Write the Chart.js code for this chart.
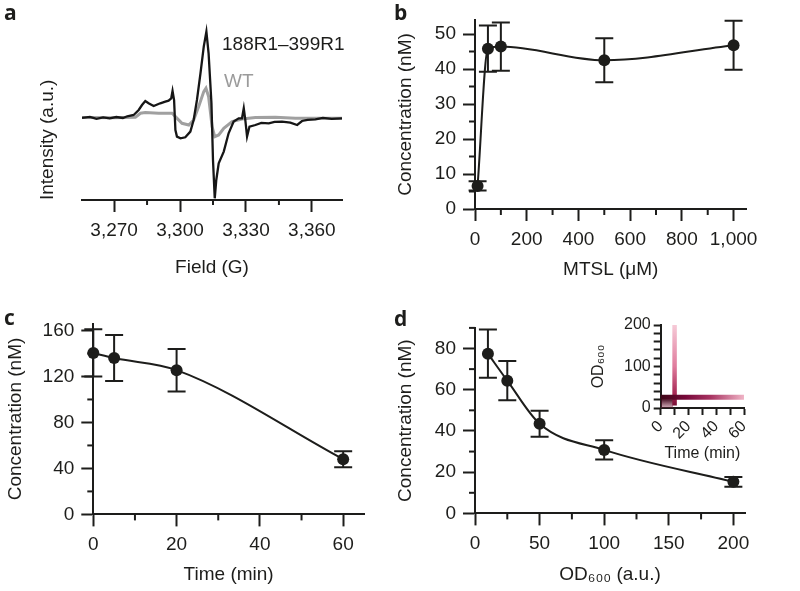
<!DOCTYPE html>
<html>
<head>
<meta charset="utf-8">
<script src="https://cdn.jsdelivr.net/npm/chart.js@4.4.0/dist/chart.umd.min.js"></script>
<style>
  html, body { margin: 0; padding: 0; background: #fff; }
  #fig { position: relative; width: 800px; height: 591px; overflow: hidden; }
  canvas { position: absolute; }
  .lbl { position: absolute; font-family: "Open Sans", "DejaVu Sans", sans-serif; font-weight: 700;
         font-size: 21px; line-height: 21px; color: #1d1d1b; }
  .note { position: absolute; font-family: "Liberation Sans", Arial, sans-serif; font-size: 19px;
          line-height: 19px; white-space: nowrap; }
</style>
</head>
<body>
<div id="fig">
  <canvas id="chartA" width="390" height="295" style="left:0;top:0"></canvas>
  <canvas id="chartB" width="410" height="295" style="left:390px;top:0"></canvas>
  <canvas id="chartC" width="390" height="296" style="left:0;top:295px"></canvas>
  <canvas id="chartD" width="410" height="296" style="left:390px;top:295px"></canvas>
  <canvas id="chartInset" width="220" height="160" style="left:580px;top:310px"></canvas>

  <div class="lbl" style="left:4px;top:2px">a</div>
  <div class="lbl" style="left:394px;top:2px">b</div>
  <div class="lbl" style="left:4px;top:307px">c</div>
  <div class="lbl" style="left:394px;top:308px">d</div>

  <div class="note" style="left:222px;top:34px;color:#1d1d1b">188R1–399R1</div>
  <div class="note" style="left:224px;top:71px;color:#9b9b9b">WT</div>
</div>

<script>
// ---- data ----

// a: EPR spectra
const spinField = [3255.4, 3259, 3262, 3265, 3268, 3271, 3274, 3276, 3278.9, 3281.2, 3282.7, 3284.2, 3285.7,
  3288.0, 3291.0, 3293.3, 3294.8, 3296.0, 3296.6, 3297.3, 3297.9, 3298.6, 3300.2, 3302.4, 3304.7, 3306.2,
  3307.7, 3309.3, 3310.8, 3312.0, 3313.0, 3314.3, 3315.0, 3315.8, 3316.5, 3317.6, 3319.9, 3322.1, 3324.4,
  3326.7, 3328.2, 3329.0, 3329.7, 3330.5, 3331.6, 3334.3, 3337, 3340.4, 3343, 3346.4, 3350.2, 3353.3,
  3355.5, 3358, 3361.6, 3365, 3369, 3373.7];
const spinIntensity = [0.5, 1.5, -0.5, 1, 0, 1.3, 0.3, 2, 3.3, 8.3, 13.3, 17.3, 15,
  12.3, 15, 16.7, 17.7, 20, 27.3, 18.3, -11.7, -18.3, -20, -19, -13.3, -1.7,
  18.3, 45, 71.7, 86.7, 65, 15, -41.7, -80, -61.7, -45, -33.3, -15, -3.3,
  0, 0, 10, -1.7, -18.3, -8.3, -6.7, -4.5, -5, -3.5, -3.3, -4.3, -6.7,
  -2.7, -1.5, -1, 0.5, -0.5, 0];
const wtField = [3255.4, 3270, 3279.7, 3282.0, 3284.2, 3290.3, 3296.4, 3297.9, 3300.9, 3304.0, 3306.2,
  3308.5, 3310.8, 3311.8, 3313.0, 3314.6, 3315.8, 3317.6, 3319.9, 3323.7, 3328.2, 3334.3, 3343.4,
  3352.5, 3373.7];
const wtIntensity = [0.7, 0.5, 1, 5, 5.7, 5, 5, 1.7, -5, -6.7, -1.7,
  11.7, 26.7, 30, 21.7, -8.3, -18.3, -16.7, -10, -3.3, -0.7, 0.7, 1,
  0, 0];
const fieldTicks = [3270, 3300, 3330, 3360];
const fieldMinor = [3285, 3315, 3345];

// b: MTSL titration
const mtsl = [10, 50, 100, 500, 1000];
const mtslConc = [6.6, 45.8, 46.4, 42.5, 46.8];
const mtslErr = [1.3, 6.6, 6.9, 6.3, 7.0];
const mtslTicks = [0, 200, 400, 600, 800, 1000];
const mtslMinor = [100, 300, 500, 700, 900];
const concTicksB = [0, 10, 20, 30, 40, 50];
const concMinorB = [5, 15, 25, 35, 45];

// c: time course
const timeMin = [0, 5, 20, 60];
const timeConc = [140.5, 136, 125.5, 48];
const timeErr = [20.5, 20, 18.5, 7];
const timeTicks = [0, 20, 40, 60];
const timeMinor = [10, 30, 50];
const concTicksC = [0, 40, 80, 120, 160];
const concMinorC = [20, 60, 100, 140];

// d: cell density
const od600 = [10, 25, 50, 100, 200];
const odConc = [77.5, 64.4, 43.5, 30.8, 15.3];
const odErr = [11.7, 9.5, 6.3, 4.7, 2.4];
const odTicks = [0, 50, 100, 150, 200];
const odMinor = [25, 75, 125, 175];
const concTicksD = [0, 20, 40, 60, 80];
const concMinorD = [10, 30, 50, 70, 90];

// d inset: OD600 over time (stripes)
const insetRowTime = [0, 60];
const insetRowOD = [26, 26];
const insetColTime = [10, 10];
const insetColOD = [6, 200];
const insetCornerTime = [0, 9];
const insetCornerOD = [21, 21];
const insetTimeTicks = [0, 10, 20, 30, 40, 50, 60];
const insetODTicks = [0, 20, 40, 60, 80, 100, 120, 140, 160, 180, 200];

// ---- helpers ----
const INK = '#1d1d1b';
Chart.defaults.font.family = '"Liberation Sans", Arial, Helvetica, sans-serif';
Chart.defaults.color = INK;

const pts = (xs, ys) => xs.map((x, i) => ({ x: x, y: ys[i] }));
const comma = v => Number(v).toLocaleString('en-US');

function axis(o) {
  const fs = o.fs || 19;
  return {
    type: 'linear', position: o.pos, min: o.min, max: o.max,
    afterBuildTicks: s => { s.ticks = o.major.map(v => ({ value: v })); },
    afterFit: s => { if (o.pos === 'bottom') s.height = o.size; else s.width = o.size; },
    border: { display: true, color: INK, width: 2 },
    grid: { drawOnChartArea: false, tickLength: o.tickLen || 12, tickWidth: 2, tickColor: INK },
    ticks: { autoSkip: false, maxRotation: o.rot || 0, minRotation: o.rot || 0, padding: o.pad,
             color: INK, font: { size: fs }, callback: o.fmt || (v => v) },
    title: { display: true, text: o.title, color: INK, font: { size: fs }, padding: o.titlePad }
  };
}

// short ticks between the labelled ones
const minorTicks = {
  id: 'minorTicks',
  afterDraw(chart, args, opts) {
    const { ctx, chartArea: a, scales } = chart;
    const len = opts.len || 6;
    ctx.save();
    ctx.strokeStyle = INK;
    ctx.lineWidth = 2;
    (opts.x || []).forEach(v => {
      const px = scales.x.getPixelForValue(v);
      ctx.beginPath(); ctx.moveTo(px, a.bottom); ctx.lineTo(px, a.bottom + len); ctx.stroke();
    });
    (opts.y || []).forEach(v => {
      const py = scales.y.getPixelForValue(v);
      ctx.beginPath(); ctx.moveTo(a.left - len, py); ctx.lineTo(a.left, py); ctx.stroke();
    });
    ctx.restore();
  }
};

// vertical error bars with caps, taken from dataset.errors
const errorBars = {
  id: 'errorBars',
  beforeDatasetsDraw(chart) {
    const { ctx, scales } = chart;
    chart.data.datasets.forEach(ds => {
      if (!ds.errors) return;
      ctx.save();
      ctx.strokeStyle = INK;
      ctx.lineWidth = 2;
      ds.data.forEach((p, j) => {
        const x = scales.x.getPixelForValue(p.x);
        const top = scales.y.getPixelForValue(p.y + ds.errors[j]);
        const bot = scales.y.getPixelForValue(p.y - ds.errors[j]);
        ctx.beginPath();
        ctx.moveTo(x, top); ctx.lineTo(x, bot);
        ctx.moveTo(x - 9, top); ctx.lineTo(x + 9, top);
        ctx.moveTo(x - 9, bot); ctx.lineTo(x + 9, bot);
        ctx.stroke();
      });
      ctx.restore();
    });
  }
};

function errorSeries(xs, ys, errs) {
  return {
    data: pts(xs, ys), errors: errs,
    borderColor: INK, borderWidth: 2, cubicInterpolationMode: 'monotone',
    pointRadius: 6, pointBackgroundColor: INK, pointBorderWidth: 0, clip: false
  };
}

const base = {
  responsive: false, animation: false, devicePixelRatio: 1,
  plugins: { legend: { display: false }, tooltip: { enabled: false } }
};

// ---- a ----
new Chart(document.getElementById('chartA'), {
  type: 'line',
  data: {
    datasets: [
      { data: pts(spinField, spinIntensity), borderColor: '#161616', borderWidth: 2.3, pointRadius: 0, order: 0 },
      { data: pts(wtField, wtIntensity), borderColor: '#a0a0a0', borderWidth: 3, pointRadius: 0, order: 1 }
    ]
  },
  options: {
    ...base,
    layout: { padding: { left: 32, right: 48, top: 20, bottom: 12 } },
    plugins: { ...base.plugins, minorTicks: { x: fieldMinor, len: 5 } },
    scales: {
      x: axis({ pos: 'bottom', min: 3255.4, max: 3373.7, major: fieldTicks, size: 83, pad: 7,
                fmt: comma, title: 'Field (G)', titlePad: { top: 0, bottom: 4 } }),
      y: { type: 'linear', min: -81.7, max: 98.3,
           afterFit: s => { s.width = 50; },
           ticks: { display: false }, grid: { display: false }, border: { display: false },
           title: { display: true, text: 'Intensity (a.u.)', align: 'start', color: INK,
                    font: { size: 19 }, padding: { top: 4, bottom: 0 } } }
    }
  },
  plugins: [minorTicks]
});

// ---- b ----
new Chart(document.getElementById('chartB'), {
  type: 'line',
  data: { datasets: [errorSeries(mtsl, mtslConc, mtslErr)] },
  options: {
    ...base,
    layout: { padding: { left: 0, right: 53.5, top: 20, bottom: 10 } },
    plugins: { ...base.plugins, minorTicks: { x: mtslMinor, y: concMinorB, len: 6 } },
    scales: {
      x: axis({ pos: 'bottom', min: 0, max: 1050, major: mtslTicks, size: 76, pad: 7,
                fmt: comma, title: 'MTSL (μM)', titlePad: { top: 0, bottom: 4 } }),
      y: axis({ pos: 'left', min: 0, max: 54, major: concTicksB, size: 85, pad: 7,
                title: 'Concentration (nM)', titlePad: { top: 4, bottom: 0 } })
    }
  },
  plugins: [minorTicks, errorBars]
});

// ---- c ----
new Chart(document.getElementById('chartC'), {
  type: 'line',
  data: { datasets: [errorSeries(timeMin, timeConc, timeErr)] },
  options: {
    ...base,
    layout: { padding: { left: 0, right: 26, top: 28.6, bottom: 0.6 } },
    plugins: { ...base.plugins, minorTicks: { x: timeMinor, y: concMinorC, len: 6 } },
    scales: {
      x: axis({ pos: 'bottom', min: 0, max: 65, major: timeTicks, size: 76, pad: 7,
                title: 'Time (min)', titlePad: { top: 0, bottom: 4 } }),
      y: axis({ pos: 'left', min: 0, max: 166, major: concTicksC, size: 93.3, pad: 7,
                title: 'Concentration (nM)', titlePad: { top: 4, bottom: 0 } })
    }
  },
  plugins: [minorTicks, errorBars]
});

// ---- d ----
new Chart(document.getElementById('chartD'), {
  type: 'line',
  data: { datasets: [errorSeries(od600, odConc, odErr)] },
  options: {
    ...base,
    layout: { padding: { left: 0, right: 55, top: 32.9, bottom: 0.6 } },
    plugins: { ...base.plugins, minorTicks: { x: odMinor, y: concMinorD, len: 6 } },
    scales: {
      x: axis({ pos: 'bottom', min: 0, max: 209, major: odTicks, size: 77, pad: 7,
                title: 'OD₆₀₀ (a.u.)', titlePad: { top: 0, bottom: 4 } }),
      y: axis({ pos: 'left', min: 0, max: 90, major: concTicksD, size: 85, pad: 7,
                title: 'Concentration (nM)', titlePad: { top: 4, bottom: 0 } })
    }
  },
  plugins: [minorTicks, errorBars]
});

// ---- d inset ----
function stripeGradient(ctx, horizontal, stops, fallback) {
  const chart = ctx.chart;
  if (!chart.chartArea) return fallback;
  const xs = chart.scales.x, ys = chart.scales.y;
  const g = horizontal
    ? chart.ctx.createLinearGradient(xs.getPixelForValue(0), 0, xs.getPixelForValue(60), 0)
    : chart.ctx.createLinearGradient(0, ys.getPixelForValue(0), 0, ys.getPixelForValue(200));
  stops.forEach(s => g.addColorStop(s[0], s[1]));
  return g;
}

new Chart(document.getElementById('chartInset'), {
  type: 'line',
  data: {
    datasets: [
      { data: pts(insetRowTime, insetRowOD), borderWidth: 5, borderCapStyle: 'butt', pointRadius: 0, clip: false,
        borderColor: c => stripeGradient(c, true,
          [[0, '#3d0716'], [0.3, '#78093a'], [0.6, '#a83462'], [1, '#f0b4c6']], '#8a1040') },
      { data: pts(insetColTime, insetColOD), borderWidth: 4.5, borderCapStyle: 'butt', pointRadius: 0, clip: false,
        borderColor: c => stripeGradient(c, false,
          [[0, '#6e0b2f'], [0.15, '#a3234f'], [0.5, '#e07c9d'], [1, '#f6cad7']], '#c05078') },
      { data: pts(insetCornerTime, insetCornerOD), borderWidth: 0, pointRadius: 0, fill: 'origin',
        backgroundColor: c => stripeGradient(c, false,
          [[0, 'rgba(120,30,60,0.35)'], [0.1, 'rgba(60,5,25,0.9)']], 'rgba(70,10,30,0.7)') }
    ]
  },
  options: {
    ...base,
    layout: { padding: { left: 5, right: 56, top: 15, bottom: 3.1 } },
    scales: {
      x: axis({ pos: 'bottom', min: 0, max: 60, major: insetTimeTicks, size: 58.9, pad: 2, fs: 16,
                tickLen: 7, rot: 45, fmt: v => (v % 20 === 0 ? v : ''),
                title: 'Time (min)', titlePad: { top: 0, bottom: 4 } }),
      y: axis({ pos: 'left', min: 0, max: 200, major: insetODTicks, size: 75.7, pad: 3, fs: 16,
                tickLen: 7, fmt: v => (v % 100 === 0 ? v : ''),
                title: 'OD₆₀₀', titlePad: { top: 4, bottom: 0 } })
    }
  }
});
</script>
</body>
</html>
